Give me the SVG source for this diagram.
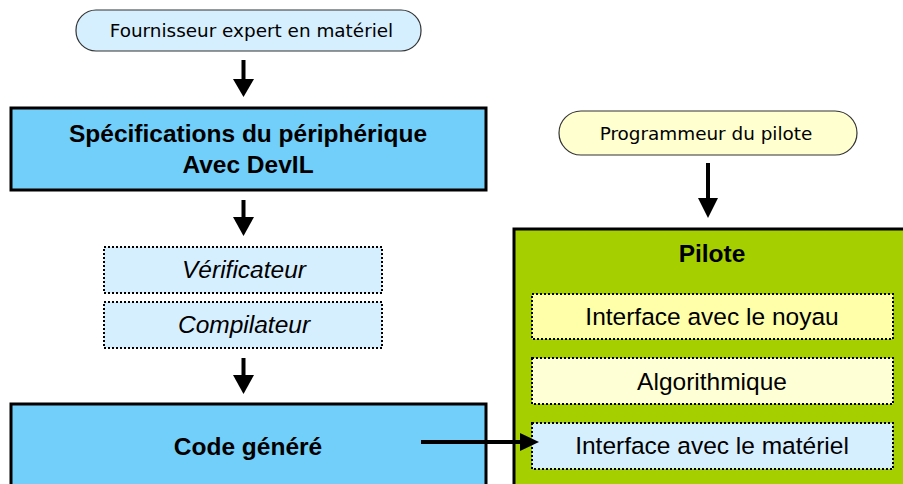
<svg xmlns="http://www.w3.org/2000/svg" width="903" height="484" viewBox="0 0 903 484">
<style>
.pill{stroke:#333;stroke-width:1.2}
.big{stroke:#000;stroke-width:3}
.dot{stroke:#000;stroke-width:2;stroke-dasharray:2 2}
.ver{font-family:"DejaVu Sans",Verdana,sans-serif;font-size:18.4px;fill:#000;text-anchor:middle}
.b{font-family:"Liberation Sans",Arial,sans-serif;font-size:24.5px;font-weight:bold;fill:#000;text-anchor:middle}
.r{font-family:"Liberation Sans",Arial,sans-serif;font-size:24.5px;fill:#000;text-anchor:middle}
.i{font-style:italic}
</style>
<rect width="903" height="484" fill="#fff"/>
<g id="fournisseur">
<rect class="pill" x="76" y="10" width="345" height="41" rx="20" fill="#d6efff"/>
<text class="ver" x="251.5" y="37">Fournisseur expert en matériel</text>
</g>
<g id="specs">
<rect class="big" x="11" y="108" width="475" height="82" fill="#72cffa"/>
<text class="b" x="248" y="142">Spécifications du périphérique</text>
<text class="b" x="248" y="173">Avec DevIL</text>
</g>
<g id="verificateur">
<rect class="dot" x="104" y="247" width="278" height="46" fill="#d6efff"/>
<text class="r i" x="244" y="278">Vérificateur</text>
</g>
<g id="compilateur">
<rect class="dot" x="104" y="302" width="278" height="46" fill="#d6efff"/>
<text class="r i" x="244" y="333">Compilateur</text>
</g>
<g id="code">
<rect class="big" x="11" y="404" width="475" height="90" fill="#72cffa"/>
<text class="b" x="248" y="455">Code généré</text>
</g>
<g id="programmeur">
<rect class="pill" x="559" y="111" width="298" height="44" rx="22" fill="#ffffd0"/>
<text class="ver" x="706" y="140">Programmeur du pilote</text>
</g>
<g id="pilote">
<rect class="big" x="514" y="229" width="400" height="270" fill="#a6cf00"/>
<text class="b" x="712" y="262">Pilote</text>
</g>
<g id="noyau">
<rect class="dot" x="532" y="294" width="361" height="45" fill="#ffffaa"/>
<text class="r" x="712" y="325">Interface avec le noyau</text>
</g>
<g id="algo">
<rect class="dot" x="532" y="358" width="361" height="46" fill="#ffffd5"/>
<text class="r" x="712" y="390">Algorithmique</text>
</g>
<g id="materiel">
<rect class="dot" x="532" y="423" width="361" height="46" fill="#d6efff"/>
<text class="r" x="712" y="454">Interface avec le matériel</text>
</g>
<g id="connectors" fill="#000">
<line x1="243.5" y1="60" x2="243.5" y2="82" stroke="#000" stroke-width="4"/>
<polygon points="233,79 254,79 243.5,97"/>
<line x1="243.5" y1="200" x2="243.5" y2="220" stroke="#000" stroke-width="4"/>
<polygon points="233,217 254,217 243.5,236"/>
<line x1="243.5" y1="358" x2="243.5" y2="378" stroke="#000" stroke-width="4"/>
<polygon points="233,375 254,375 243.5,394"/>
<line x1="708" y1="163" x2="708" y2="201" stroke="#000" stroke-width="4"/>
<polygon points="698,198 718,198 708,218"/>
<line x1="421" y1="442" x2="523" y2="442" stroke="#000" stroke-width="4"/>
<polygon points="520,433 520,451 539,442"/>
</g>
</svg>
